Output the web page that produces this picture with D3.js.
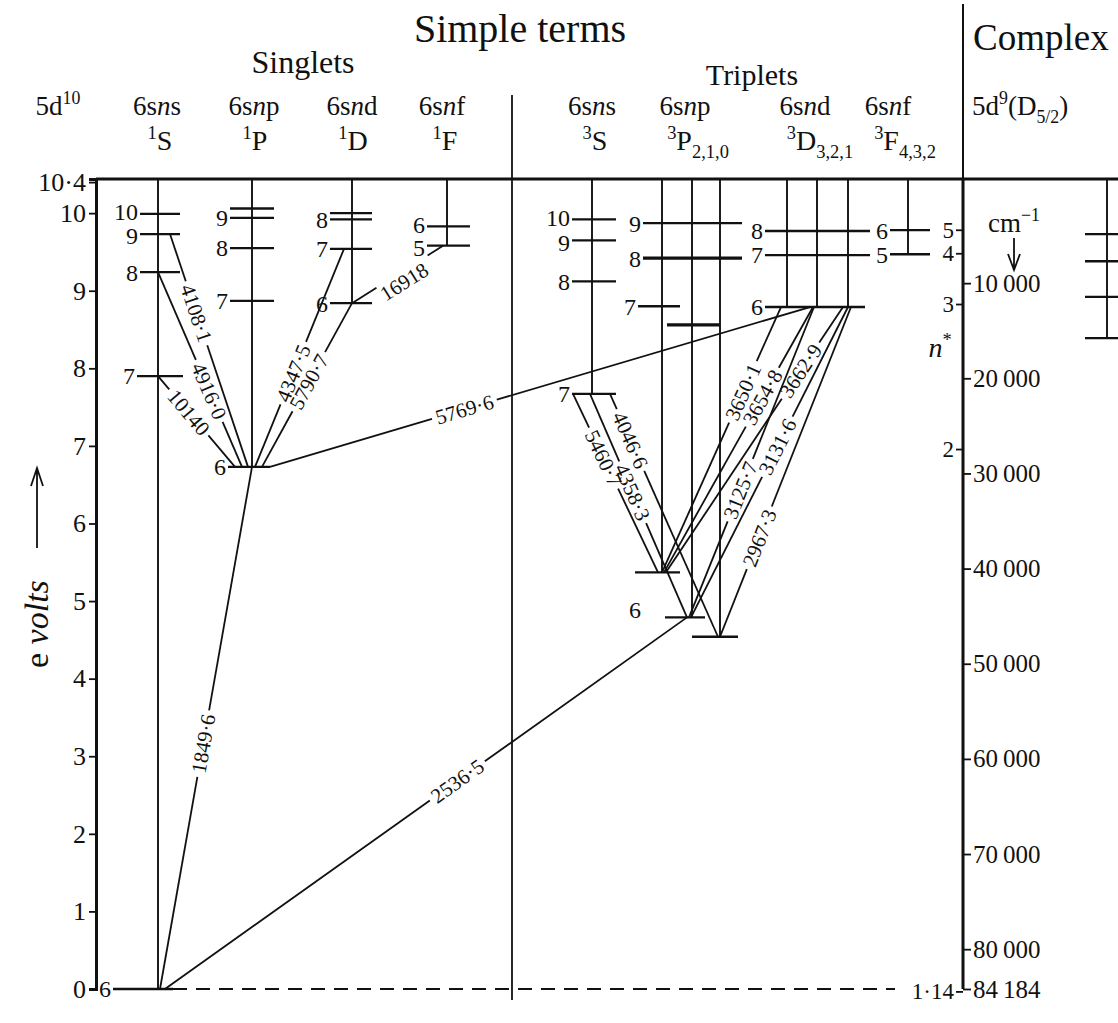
<!DOCTYPE html>
<html>
<head>
<meta charset="utf-8">
<script src="https://cdn.jsdelivr.net/npm/d3@7"></script>
<style>
  body { margin: 0; background: #fff; }
  svg { font-family: "Liberation Serif", "DejaVu Serif", serif; }
</style>
</head>
<body>
<script>
'use strict';

// ---- data (mercury, energies in eV above ground) ----
const columns = ["1S", "1P", "1D", "1F", "3S", "3P2", "3P1", "3P0", "3D3", "3D2", "3D1", "3F", "X"];

const singletLevels = [
    {id: "s6",  col: ["1S"], n: "6",  eV: 0},
    {id: "s7",  col: ["1S"], n: "7",  eV: 7.90},
    {id: "s8",  col: ["1S"], n: "8",  eV: 9.24},
    {id: "s9",  col: ["1S"], n: "9",  eV: 9.73},
    {id: "s10", col: ["1S"], n: "10", eV: 9.99},
    {id: "p6",  col: ["1P"], n: "6",  eV: 6.73},
    {id: "p7",  col: ["1P"], n: "7",  eV: 8.87},
    {id: "p8",  col: ["1P"], n: "8",  eV: 9.55},
    {id: "p9",  col: ["1P"], n: "9",  eV: 9.94},
    {id: "p9b", col: ["1P"], n: "",   eV: 10.06},
    {id: "d6",  col: ["1D"], n: "6",  eV: 8.84},
    {id: "d7",  col: ["1D"], n: "7",  eV: 9.54},
    {id: "d8",  col: ["1D"], n: "8",  eV: 9.92},
    {id: "d8b", col: ["1D"], n: "",   eV: 10.00},
    {id: "f5",  col: ["1F"], n: "5",  eV: 9.58},
    {id: "f6",  col: ["1F"], n: "6",  eV: 9.83}
];

const tripletLevels = [
    {id: "S7",    col: ["3S"], n: "7",  eV: 7.67},
    {id: "S8",    col: ["3S"], n: "8",  eV: 9.12},
    {id: "S9",    col: ["3S"], n: "9",  eV: 9.65},
    {id: "S10",   col: ["3S"], n: "10", eV: 9.92},
    {id: "P6_2",  col: ["3P2"], n: "",  eV: 5.37},
    {id: "P6_1",  col: ["3P1"], n: "6", eV: 4.79},
    {id: "P6_0",  col: ["3P0"], n: "",  eV: 4.54},
    {id: "P7_2",  col: ["3P2"], n: "7", eV: 8.80},
    {id: "P7_10", col: ["3P1", "3P0"], n: "", eV: 8.56},
    {id: "P8",    col: ["3P2", "3P0"], n: "8", eV: 9.42},
    {id: "P9",    col: ["3P2", "3P0"], n: "9", eV: 9.87},
    {id: "D6",    col: ["3D3", "3D1"], n: "6", eV: 8.79},
    {id: "D7",    col: ["3D3", "3D1"], n: "7", eV: 9.46},
    {id: "D8",    col: ["3D3", "3D1"], n: "8", eV: 9.77},
    {id: "F5",    col: ["3F"], n: "5", eV: 9.47},
    {id: "F6",    col: ["3F"], n: "6", eV: 9.78}
];

const complexLevels = [
    {id: "X1", col: ["X"], n: "", eV: 9.73},
    {id: "X2", col: ["X"], n: "", eV: 9.38},
    {id: "X3", col: ["X"], n: "", eV: 8.92},
    {id: "X4", col: ["X"], n: "", eV: 8.39}
];

// wavelength (Å), upper level @ column, lower level @ column
const transitions = [
    {w: "1849·6", from: "p6",   fc: "1P",  to: "s6",   tc: "1S"},
    {w: "2536·5", from: "P6_1", fc: "3P1", to: "s6",   tc: "1S"},
    {w: "10140",  from: "s7",   fc: "1S",  to: "p6",   tc: "1P"},
    {w: "4916·0", from: "s8",   fc: "1S",  to: "p6",   tc: "1P"},
    {w: "4108·1", from: "s9",   fc: "1S",  to: "p6",   tc: "1P"},
    {w: "4347·5", from: "d7",   fc: "1D",  to: "p6",   tc: "1P"},
    {w: "5790·7", from: "d6",   fc: "1D",  to: "p6",   tc: "1P"},
    {w: "16918",  from: "f5",   fc: "1F",  to: "d6",   tc: "1D"},
    {w: "5769·6", from: "D6",   fc: "3D2", to: "p6",   tc: "1P"},
    {w: "5460·7", from: "S7",   fc: "3S",  to: "P6_2", tc: "3P2"},
    {w: "4358·3", from: "S7",   fc: "3S",  to: "P6_1", tc: "3P1"},
    {w: "4046·6", from: "S7",   fc: "3S",  to: "P6_0", tc: "3P0"},
    {w: "3650·1", from: "D6",   fc: "3D3", to: "P6_2", tc: "3P2"},
    {w: "3654·8", from: "D6",   fc: "3D2", to: "P6_2", tc: "3P2"},
    {w: "3662·9", from: "D6",   fc: "3D1", to: "P6_2", tc: "3P2"},
    {w: "3125·7", from: "D6",   fc: "3D2", to: "P6_1", tc: "3P1"},
    {w: "3131·6", from: "D6",   fc: "3D1", to: "P6_1", tc: "3P1"},
    {w: "2967·3", from: "D6",   fc: "3D1", to: "P6_0", tc: "3P0"}
];

const voltTicks = [0, 1, 2, 3, 4, 5, 6, 7, 8, 9, 10, 10.4];
const cmTicks = [10000, 20000, 30000, 40000, 50000, 60000, 70000, 80000, 84184];
const nStarTicks = [5, 4, 3, 2, 1.14];
const ionisation = 10.44;     // eV, top of the diagram
const ionisationCm = 84184;   // cm-1
const rydberg = 109737;

// ---- layout ----
const W = 1118, H = 1023;
const columnX = [158, 252, 352, 447, 592, 662, 692, 720, 787, 817, 848, 908, 1107];
const x = d3.scaleOrdinal().domain(columns).range(columnX);
const y = d3.scaleLinear().domain([0, ionisation]).range([989, 179]);
const yCm = d3.scaleLinear().domain([ionisationCm, 0]).range([y(0), 188]);
const yN = d3.scalePow().exponent(-2).domain([1.14, 5])
    .range([yCm(rydberg / 1.14 / 1.14), yCm(rydberg / 25)]);

const axisX = 96, rightX = 963, divX = 512;
const ink = "#111";

const groupPad = {"1S": [18, 22], "1P": [22, 22], "1D": [22, 20], "1F": [20, 23],
                  "3S": [20, 24], "3D3": [22, 22], "3F": [18, 22], "X": [22, 15]};
const tickPad = {s6: [45, 15], s7: [21, 25], p6: [24, 18],
                 P6_2: [27, 18], P6_1: [27, 13], P6_0: [28, 18],
                 P7_2: [24, 18], P7_10: [25, 0], P8: [19, 22], P9: [19, 22], D6: [22, 17]};
const labelShift = {P6_1: [-22, -8], s10: [0, -2], s9: [0, 2], S10: [0, -2], S9: [0, 2],
                    f6: [0, -2], f5: [0, 2]};

// line label position along the line (0 = upper end), end shifts [upper dx, lower dx], label nudges
const labelAt = {"1849·6": .53, "2536·5": .44, "10140": .40, "4916·0": .61, "4108·1": .34,
                 "4347·5": .57, "5790·7": .48, "16918": .45, "5769·6": .64,
                 "5460·7": .36, "4358·3": .44, "4046·6": .19, "3650·1": .32, "3654·8": .34,
                 "3662·9": .24, "3125·7": .59, "3131·6": .45, "2967·3": .70};
const endShift = {"1849·6": [0, 2], "2536·5": [-5, 7], "10140": [0, -17], "4916·0": [0, -10],
                  "4108·1": [12, -4], "4347·5": [-8, 3], "5790·7": [0, 10], "16918": [-4, 0],
                  "5769·6": [-7, 18], "5460·7": [-19, -4], "4358·3": [-2, -5], "4046·6": [18, -2],
                  "3650·1": [-6, 0], "3654·8": [-4, 2], "3662·9": [-5, 4], "3125·7": [-3, -3],
                  "3131·6": [0, -1], "2967·3": [3, 0]};
const labelNudge = {"16918": [2, 10]};

const svg = d3.select("body").append("svg").attr("width", W).attr("height", H);

// superscripts / subscripts / italics in one text element
function rich(sel, parts, size) {
    let shift = 0;
    parts.forEach(p => {
        const want = p.sup ? -size * 0.4 : p.sub ? size * 0.28 : 0;
        const ts = sel.append("tspan").attr("dy", want - shift).text(p.t);
        shift = want;
        if (p.sup || p.sub) ts.attr("font-size", size * 0.66);
        if (p.it) ts.attr("font-style", "italic");
    });
    return sel;
}
function label(parts, px, py, size, anchor = "middle") {
    const t = svg.append("text").attr("x", px).attr("y", py)
        .attr("font-size", size).attr("text-anchor", anchor).attr("fill", ink);
    return rich(t, parts, size);
}

// ---- headings ----
label([{t: "Simple terms"}], 520, 42, 40);
label([{t: "Complex"}], 973, 50, 37, "start");
label([{t: "Singlets"}], 303, 73, 32);
label([{t: "Triplets"}], 752, 85, 30);

const cfg = l => [{t: "6s"}, {t: "n", it: true}, {t: l}];
const heads = [
    {cx: 58,  a: [{t: "5d"}, {t: "10", sup: true}], b: null},
    {cx: 157, a: cfg("s"), b: [{t: "1", sup: true}, {t: "S"}], bx: 160},
    {cx: 254, a: cfg("p"), b: [{t: "1", sup: true}, {t: "P"}], bx: 255},
    {cx: 352, a: cfg("d"), b: [{t: "1", sup: true}, {t: "D"}], bx: 353},
    {cx: 442, a: cfg("f"), b: [{t: "1", sup: true}, {t: "F"}], bx: 445},
    {cx: 592, a: cfg("s"), b: [{t: "3", sup: true}, {t: "S"}], bx: 595},
    {cx: 685, a: cfg("p"), b: [{t: "3", sup: true}, {t: "P"}, {t: "2,1,0", sub: true}], bx: 698},
    {cx: 805, a: cfg("d"), b: [{t: "3", sup: true}, {t: "D"}, {t: "3,2,1", sub: true}], bx: 820},
    {cx: 888, a: cfg("f"), b: [{t: "3", sup: true}, {t: "F"}, {t: "4,3,2", sub: true}], bx: 905}
];
heads.forEach(h => {
    label(h.a, h.cx, 115, 27);
    if (h.b) label(h.b, h.bx, 150, 28);
});
label([{t: "5d"}, {t: "9", sup: true}, {t: "(D"}, {t: "5/2", sub: true}, {t: ")"}], 972, 115, 27, "start");

// ---- frame lines ----
svg.append("line").attr("x1", axisX).attr("x2", W).attr("y1", y(ionisation)).attr("y2", y(ionisation))
    .attr("stroke", ink).attr("stroke-width", 3);
svg.append("line").attr("x1", divX).attr("x2", divX).attr("y1", 95).attr("y2", 1000)
    .attr("stroke", ink).attr("stroke-width", 1.8);
svg.append("line").attr("x1", rightX).attr("x2", rightX).attr("y1", 4).attr("y2", y(ionisation))
    .attr("stroke", ink).attr("stroke-width", 2);
svg.append("line").attr("x1", rightX).attr("x2", rightX).attr("y1", y(ionisation)).attr("y2", y(0))
    .attr("stroke", ink).attr("stroke-width", 3);

// ---- axes ----
function styleAxis(s, size) {
    s.attr("font-family", null).attr("font-size", size);
    s.selectAll(".tick line").attr("stroke", ink).attr("stroke-width", 1.8);
    s.selectAll(".tick text").attr("fill", ink);
}
svg.append("g").attr("transform", `translate(${axisX},0)`)
    .call(d3.axisLeft(y).tickValues(voltTicks).tickSizeOuter(0).tickSize(7).tickPadding(3)
        .tickFormat(d => d === 10.4 ? "10·4" : d))
    .call(s => { styleAxis(s, 26); s.select(".domain").attr("stroke", ink).attr("stroke-width", 3); });

svg.append("g").attr("transform", `translate(${rightX},0)`)
    .call(d3.axisRight(yCm).tickValues(cmTicks).tickSizeOuter(0).tickSize(8).tickPadding(2)
        .tickFormat(d => d3.format(",")(d).replace(",", "\u2009")))
    .call(s => { styleAxis(s, 25); s.select(".domain").remove(); });

svg.append("g").attr("transform", `translate(${rightX},0)`)
    .call(d3.axisLeft(yN).tickValues(nStarTicks).tickSizeOuter(0).tickSize(7).tickPadding(2)
        .tickFormat(d => d === 1.14 ? "1·14" : d))
    .call(s => { styleAxis(s, 23); s.select(".domain").remove(); });

label([{t: "n", it: true}, {t: "*", sup: true}], 940, 357, 28, "middle");
label([{t: "cm"}, {t: "−1", sup: true}], 1014, 232, 27, "middle");
svg.append("path").attr("d", "M1014,238 V268 M1008,254 L1014,270 L1020,254")
    .attr("fill", "none").attr("stroke", ink).attr("stroke-width", 1.8);

// e volts label with arrow
const ev = svg.append("text").attr("transform", "translate(48,668) rotate(-90)")
    .attr("font-size", 34).attr("fill", ink);
rich(ev, [{t: "e "}, {t: "volts", it: true}], 34);
svg.append("path").attr("d", "M37,548 V470 M31,486 L37,468 L43,486")
    .attr("fill", "none").attr("stroke", ink).attr("stroke-width", 1.8);

// ---- levels ----
const allLevels = singletLevels.concat(tripletLevels, complexLevels);
const byId = Object.fromEntries(allLevels.map(d => [d.id, d]));
const padOf = d => tickPad[d.id] || groupPad[d.col[0]] || [20, 20];
const x1Of = d => x(d.col[0]) - padOf(d)[0];
const x2Of = d => x(d.col[d.col.length - 1]) + padOf(d)[1];

// vertical column lines from the series limit down to the lowest level of each column
const colBottom = columns.map(c => ({
    c, eV: d3.min(allLevels.filter(d => {
        const i0 = columns.indexOf(d.col[0]), i1 = columns.indexOf(d.col[d.col.length - 1]);
        const i = columns.indexOf(c);
        return i >= i0 && i <= i1;
    }), d => d.eV)
}));
svg.append("g").selectAll("line").data(colBottom).join("line")
    .attr("x1", d => x(d.c)).attr("x2", d => x(d.c))
    .attr("y1", y(ionisation)).attr("y2", d => y(d.eV))
    .attr("stroke", ink).attr("stroke-width", 1.9);

const lv = svg.append("g").selectAll("g").data(allLevels).join("g");
lv.append("line")
    .attr("x1", x1Of).attr("x2", x2Of)
    .attr("y1", d => y(d.eV)).attr("y2", d => y(d.eV))
    .attr("stroke", ink).attr("stroke-width", d => d.id === "P7_10" || d.id === "P8" ? 3.2 : 2.3);
lv.filter(d => d.n).append("text")
    .attr("x", d => x1Of(d) - 2 + (labelShift[d.id] || [0, 0])[0])
    .attr("y", d => y(d.eV) + (labelShift[d.id] || [0, 0])[1])
    .attr("dy", "0.35em").attr("text-anchor", "end")
    .attr("font-size", 24).attr("fill", ink)
    .text(d => d.n);

// ground level continued dashed towards the right-hand scale
svg.append("line").attr("x1", x2Of(byId.s6)).attr("x2", rightX - 68)
    .attr("y1", y(0)).attr("y2", y(0))
    .attr("stroke", ink).attr("stroke-width", 1.8).attr("stroke-dasharray", "14,9");

// ---- transitions with the wavelength written into a gap ----
const tg = svg.append("g");
transitions.forEach(t => {
    const sh = endShift[t.w] || [0, 0];
    const nd = labelNudge[t.w] || [0, 0];
    const ax = x(t.fc) + sh[0], ay = y(byId[t.from].eV);
    const bx = x(t.tc) + sh[1], by = y(byId[t.to].eV);
    const dx = bx - ax, dy = by - ay, len = Math.hypot(dx, dy);
    const f = labelAt[t.w];
    const cx = ax + dx * f, cy = ay + dy * f;
    let ang = Math.atan2(dy, dx) * 180 / Math.PI;
    if (ang > 90) ang -= 180;
    if (ang < -90) ang += 180;
    const txt = tg.append("text")
        .attr("transform", `translate(${cx + nd[0]},${cy + nd[1]}) rotate(${ang})`)
        .attr("text-anchor", "middle").attr("dy", "0.35em")
        .attr("font-size", 21).attr("fill", ink).text(t.w);
    const half = txt.node().getComputedTextLength() / 2 + 4;
    const ux = dx / len, uy = dy / len;
    tg.append("line").attr("x1", ax).attr("y1", ay)
        .attr("x2", cx - ux * half).attr("y2", cy - uy * half)
        .attr("stroke", ink).attr("stroke-width", 1.8);
    tg.append("line").attr("x1", cx + ux * half).attr("y1", cy + uy * half)
        .attr("x2", bx).attr("y2", by)
        .attr("stroke", ink).attr("stroke-width", 1.8);
});
</script>
</body>
</html>
